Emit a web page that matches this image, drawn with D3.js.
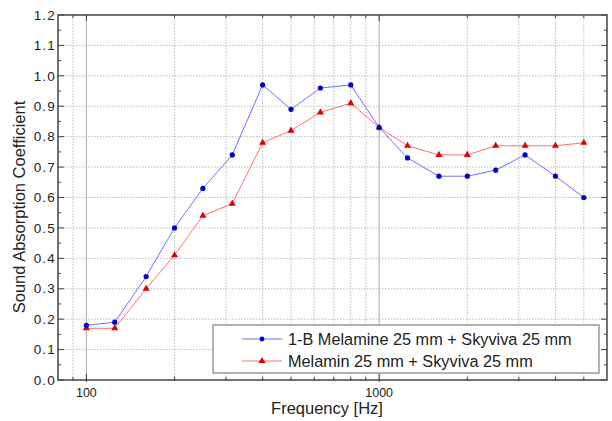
<!DOCTYPE html>
<html>
<head>
<meta charset="utf-8">
<script src="https://cdn.jsdelivr.net/npm/d3@7"></script>
<style>
  body { margin: 0; background: #fff; }
  svg { font-family: "Liberation Sans", Arial, sans-serif; }
</style>
</head>
<body>
<div id="chart"></div>
<script>
const freqs = [100, 125, 160, 200, 250, 315, 400, 500, 630, 800, 1000, 1250, 1600, 2000, 2500, 3150, 4000, 5000]
const seriesB = [0.18, 0.19, 0.34, 0.50, 0.63, 0.74, 0.97, 0.89, 0.96, 0.97, 0.83, 0.73, 0.67, 0.67, 0.69, 0.74, 0.67, 0.60]
const seriesM = [0.17, 0.17, 0.30, 0.41, 0.54, 0.58, 0.78, 0.82, 0.88, 0.91, 0.83, 0.77, 0.74, 0.74, 0.77, 0.77, 0.77, 0.78]
const seriesNames = ['1-B Melamine 25 mm + Skyviva 25 mm', 'Melamin 25 mm + Skyviva 25 mm']
const xLabels = [100, 1000]
const xMinor = [90, 200, 300, 400, 500, 600, 700, 800, 900, 2000, 3000, 4000, 5000]
const yTicks = d3.range(0, 1.201, 0.1)
const yMinor = d3.range(0.05, 1.2, 0.1)

const width = 612
const height = 421
const margin = { top: 15, right: 5, bottom: 41, left: 58 }

const svg = d3.select('#chart').append('svg')
  .attr('width', width)
  .attr('height', height)

const x = d3.scaleLog().domain([80, 6000]).range([margin.left, width - margin.right])
const y = d3.scaleLinear().domain([0, 1.2]).range([height - margin.bottom, margin.top])
const x0 = margin.left, x1 = width - margin.right
const y0 = height - margin.bottom, y1 = margin.top

// grid
const grid = svg.append('g')
grid.selectAll('.hg').data(yTicks.slice(1, -1)).enter().append('line')
  .attr('x1', x0).attr('x2', x1)
  .attr('y1', d => y(d)).attr('y2', d => y(d))
  .attr('stroke', '#bbb').attr('stroke-dasharray', '1.5,1.5')
grid.selectAll('.vm').data(xMinor).enter().append('line')
  .attr('x1', d => x(d)).attr('x2', d => x(d))
  .attr('y1', y0).attr('y2', y1)
  .attr('stroke', '#bbb').attr('stroke-dasharray', '1.5,1.5')
grid.selectAll('.vM').data(xLabels).enter().append('line')
  .attr('x1', d => x(d)).attr('x2', d => x(d))
  .attr('y1', y0).attr('y2', y1)
  .attr('stroke', '#aaa').attr('stroke-width', 1)

// ticks (inward, on all four sides)
const ticks = svg.append('g').attr('stroke', '#444')
yTicks.forEach(v => {
  ticks.append('line').attr('x1', x0).attr('x2', x0 + 6).attr('y1', y(v)).attr('y2', y(v))
  ticks.append('line').attr('x1', x1).attr('x2', x1 - 6).attr('y1', y(v)).attr('y2', y(v))
})
yMinor.forEach(v => {
  ticks.append('line').attr('x1', x0).attr('x2', x0 + 3).attr('y1', y(v)).attr('y2', y(v))
  ticks.append('line').attr('x1', x1).attr('x2', x1 - 3).attr('y1', y(v)).attr('y2', y(v))
})
xLabels.forEach(v => {
  ticks.append('line').attr('x1', x(v)).attr('x2', x(v)).attr('y1', y0 + 2).attr('y2', y0 - 6)
  ticks.append('line').attr('x1', x(v)).attr('x2', x(v)).attr('y1', y1).attr('y2', y1 + 6)
})
xMinor.forEach(v => {
  ticks.append('line').attr('x1', x(v)).attr('x2', x(v)).attr('y1', y0 + 1).attr('y2', y0 - 3)
  ticks.append('line').attr('x1', x(v)).attr('x2', x(v)).attr('y1', y1).attr('y2', y1 + 3)
})

// frame
svg.append('rect')
  .attr('x', x0).attr('y', y1)
  .attr('width', x1 - x0).attr('height', y0 - y1)
  .attr('fill', 'none').attr('stroke', '#444').attr('stroke-width', 1.5)

// tick labels
svg.selectAll('.yl').data(yTicks).enter().append('text')
  .attr('x', x0 - 2).attr('y', d => y(d)).attr('dy', '0.35em')
  .attr('text-anchor', 'end').attr('font-size', 13.5).attr('letter-spacing', 1.2)
  .attr('fill', '#222')
  .text(d => d.toFixed(1))
svg.selectAll('.xl').data(xLabels).enter().append('text')
  .attr('x', d => x(d)).attr('y', y0 + 17)
  .attr('text-anchor', 'middle').attr('font-size', 12.5).attr('fill', '#222')
  .text(d => d)

// axis titles
svg.append('text')
  .attr('x', 327).attr('y', 414)
  .attr('text-anchor', 'middle').attr('font-size', 16.5).attr('fill', '#222')
  .text('Frequency [Hz]')
svg.append('text')
  .attr('transform', `translate(25,207) rotate(-90)`)
  .attr('text-anchor', 'middle').attr('font-size', 16.5).attr('fill', '#222')
  .text('Sound Absorption Coefficient')

// series
const line = d3.line().x(d => x(d[0])).y(d => y(d[1]))
const dataB = freqs.map((f, i) => [f, seriesB[i]])
const dataM = freqs.map((f, i) => [f, seriesM[i]])
const tri = d3.symbol().type(d3.symbolTriangle).size(22)

svg.append('path').datum(dataM).attr('d', line)
  .attr('fill', 'none').attr('stroke', '#ff7070').attr('stroke-width', 1)
svg.append('path').datum(dataB).attr('d', line)
  .attr('fill', 'none').attr('stroke', '#7070ff').attr('stroke-width', 1)
svg.selectAll('.mm').data(dataM).enter().append('path')
  .attr('d', tri).attr('transform', d => `translate(${x(d[0])},${y(d[1])})`)
  .attr('fill', '#e00000')
svg.selectAll('.mb').data(dataB).enter().append('circle')
  .attr('cx', d => x(d[0])).attr('cy', d => y(d[1])).attr('r', 2.6)
  .attr('fill', '#0000d0')

// legend
const lg = svg.append('g')
lg.append('rect').attr('x', 213).attr('y', 325).attr('width', 386).attr('height', 48)
  .attr('fill', '#fff').attr('stroke', '#666').attr('stroke-width', 1)
const rows = [
  { name: seriesNames[0], line: '#7070ff', mark: '#0000d0', shape: 'circle' },
  { name: seriesNames[1], line: '#ff7070', mark: '#e00000', shape: 'tri' }
]
rows.forEach((r, i) => {
  const cy = 339 + i * 22
  lg.append('line').attr('x1', 242).attr('x2', 282).attr('y1', cy).attr('y2', cy)
    .attr('stroke', r.line).attr('stroke-width', 1)
  if (r.shape === 'circle') {
    lg.append('circle').attr('cx', 262).attr('cy', cy).attr('r', 2.4).attr('fill', r.mark)
  } else {
    lg.append('path').attr('d', tri).attr('transform', `translate(262,${cy})`).attr('fill', r.mark)
  }
  lg.append('text').attr('x', 288).attr('y', cy).attr('dy', '0.36em')
    .attr('font-size', 16.3).attr('fill', '#222').text(r.name)
})
</script>
</body>
</html>
